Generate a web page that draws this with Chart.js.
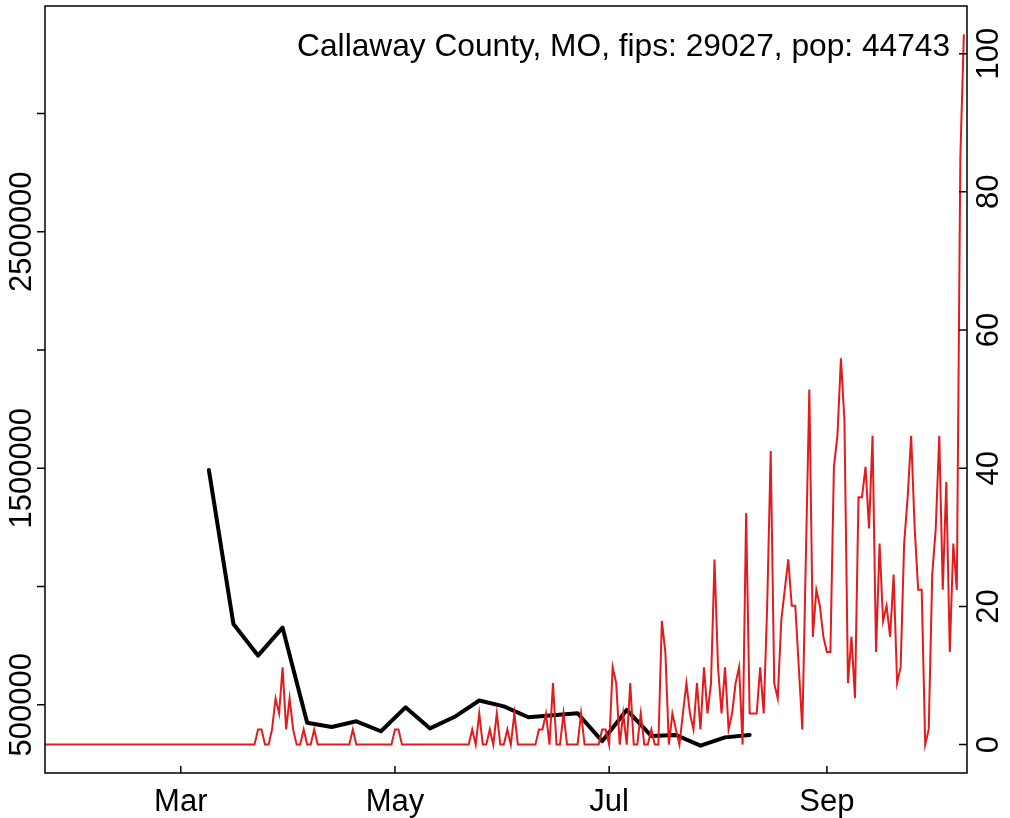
<!DOCTYPE html>
<html>
<head>
<meta charset="utf-8">
<script src="https://cdn.jsdelivr.net/npm/chart.js@4.4.1/dist/chart.umd.min.js"></script>
<style>
  html, body { margin: 0; padding: 0; background: #fff; }
  canvas { display: block; }
</style>
</head>
<body>
<canvas id="chart" width="1010" height="818"></canvas>
<script>
// day 0 = Jan 22
const dailyRate = [
    0, 0, 0, 0, 0, 0, 0, 0, 0, 0, 0, 0, 0, 0, 0, 0, 0, 0, 0, 0,
    0, 0, 0, 0, 0, 0, 0, 0, 0, 0, 0, 0, 0, 0, 0, 0, 0, 0, 0, 0,
    0, 0, 0, 0, 0, 0, 0, 0, 0, 0, 0, 0, 0, 0, 0, 0, 0, 0, 0, 0,
    0, 2.2, 2.2, 0, 0, 2.2, 6.7, 4.5, 11.2, 2.2, 6.7, 2.2, 0, 0, 2.2, 0, 0, 2.2, 0, 0,
    0, 0, 0, 0, 0, 0, 0, 0, 2.2, 0, 0, 0, 0, 0, 0, 0, 0, 0, 0, 0,
    2.2, 2.2, 0, 0, 0, 0, 0, 0, 0, 0, 0, 0, 0, 0, 0, 0, 0, 0, 0, 0,
    0, 0, 2.2, 0, 4.5, 0, 0, 2.2, 0, 4.5, 0, 0, 2.2, 0, 4.5, 0, 0, 0, 0, 0,
    0, 2.2, 2.2, 4.5, 0, 8.9, 0, 0, 4.5, 0, 0, 0, 0, 4.5, 0, 0, 0, 0, 0, 2.2,
    2.2, 0, 11.2, 8.9, 0, 4.5, 0, 8.9, 0, 0, 4.5, 0, 0, 2.2, 0, 0, 17.9, 13.4, 0, 4.5,
    2.2, 0, 4.5, 8.9, 4.5, 2.2, 8.9, 2.2, 11.2, 4.5, 8.9, 26.8, 11.2, 4.5, 11.2, 2.2, 4.5, 8.9, 11.2, 0,
    33.5, 4.5, 4.5, 4.5, 11.2, 4.5, 20.1, 42.5, 8.9, 6.7, 17.9, 22.4, 26.8, 20.1, 20.1, 11.2, 2.2, 26.8, 51.4, 15.6,
    22.4, 20.1, 15.6, 13.4, 13.4, 40.2, 44.7, 55.9, 46.9, 8.9, 15.6, 6.7, 35.8, 35.8, 40.2, 31.3, 44.7, 13.4, 29.1, 17.9,
    20.1, 15.6, 24.6, 8.9, 11.2, 29.1, 35.8, 44.7, 31.3, 22.4, 22.4, 0, 2.2, 24.6, 31.3, 44.7, 22.4, 38.0, 13.4, 29.1,
    22.4, 84.9, 102.8
];

// weekly series, Mar 9 .. Aug 10
const weekDays = [47, 54, 61, 68, 75, 82, 89, 96, 103, 110, 117, 124,
                  131, 138, 145, 152, 159, 166, 173, 180, 187, 194, 201];
const weekTotals = [1493000, 841000, 708000, 826000, 424000, 406000, 430000, 388000,
                    489000, 400000, 449000, 518000, 493000, 447000, 456000, 464000,
                    346000, 478000, 368000, 372000, 327000, 362000, 372000];

const monthTicks = [39, 100, 161, 223];
const monthLabels = ['Mar', 'May', 'Jul', 'Sep'];
const leftTicks = [500000, 1000000, 1500000, 2000000, 2500000, 3000000];
const leftLabels = ['500000', '', '1500000', '', '2500000', ''];
const rightTicks = [0, 20, 40, 60, 80, 100];
const titleText = 'Callaway County, MO, fips: 29027, pop: 44743';

const FAMILY = '"Liberation Sans", Arial, Helvetica, sans-serif';
const FONT = '31px ' + FAMILY;

const framePlugin = {
    id: 'frame',
    afterDatasetsDraw(chart) {
        const ctx = chart.ctx;
        const a = chart.chartArea;
        const sx = chart.scales.x, sl = chart.scales.y, sr = chart.scales.y2;
        ctx.save();
        ctx.strokeStyle = '#000';
        ctx.fillStyle = '#000';
        ctx.lineWidth = 1.5;
        ctx.strokeRect(a.left, a.top, a.right - a.left, a.bottom - a.top);

        ctx.font = FONT;
        ctx.beginPath();
        // x ticks point inward
        monthTicks.forEach(d => {
            const px = sx.getPixelForValue(d);
            ctx.moveTo(px, a.bottom);
            ctx.lineTo(px, a.bottom - 7);
        });
        // left ticks outward
        leftTicks.forEach(v => {
            const py = sl.getPixelForValue(v);
            ctx.moveTo(a.left, py);
            ctx.lineTo(a.left - 8, py);
        });
        // right ticks inward
        rightTicks.forEach(v => {
            const py = sr.getPixelForValue(v);
            ctx.moveTo(a.right, py);
            ctx.lineTo(a.right - 8, py);
        });
        ctx.stroke();

        ctx.textAlign = 'center';
        ctx.textBaseline = 'alphabetic';
        monthTicks.forEach((d, i) => {
            ctx.fillText(monthLabels[i], sx.getPixelForValue(d), 811);
        });

        leftTicks.forEach((v, i) => {
            if (!leftLabels[i]) return;
            ctx.save();
            ctx.translate(31, sl.getPixelForValue(v));
            ctx.rotate(-Math.PI / 2);
            ctx.fillText(leftLabels[i], 0, 0);
            ctx.restore();
        });

        rightTicks.forEach(v => {
            ctx.save();
            ctx.translate(998, sr.getPixelForValue(v));
            ctx.rotate(-Math.PI / 2);
            ctx.fillText(String(v), 0, 0);
            ctx.restore();
        });

        ctx.font = '31.7px ' + FAMILY;
        ctx.textAlign = 'right';
        ctx.fillText(titleText, 950, 56);
        ctx.restore();
    }
};

const chart = new Chart(document.getElementById('chart'), {
    type: 'line',
    data: {
        datasets: [
            {
                label: 'daily',
                data: dailyRate.map((v, i) => ({ x: i, y: v })),
                yAxisID: 'y2',
                borderColor: '#e41a1c',
                borderWidth: 2,
                pointRadius: 0,
                tension: 0,
                order: 0,
            },
            {
                label: 'weekly',
                data: weekDays.map((d, i) => ({ x: d, y: weekTotals[i] })),
                yAxisID: 'y',
                borderColor: '#000000',
                borderWidth: 4,
                pointRadius: 0,
                tension: 0,
                borderCapStyle: 'round',
                borderJoinStyle: 'round',
                order: 1,
            },
        ],
    },
    options: {
        responsive: false,
        animation: false,
        devicePixelRatio: 1,
        layout: { padding: { top: 6, left: 0, right: 0, bottom: 0 } },
        plugins: {
            legend: { display: false },
            tooltip: { enabled: false },
        },
        scales: {
            x: {
                type: 'linear',
                min: 0.34,
                max: 262.9,
                ticks: { display: false },
                grid: { display: false },
                border: { display: false },
                afterFit: s => { s.height = 45; },
            },
            y: {
                type: 'linear',
                position: 'left',
                min: 211400,
                max: 3454500,
                ticks: { display: false },
                grid: { display: false },
                border: { display: false },
                afterFit: s => { s.width = 45; },
            },
            y2: {
                type: 'linear',
                position: 'right',
                min: -4.11,
                max: 106.9,
                ticks: { display: false },
                grid: { display: false },
                border: { display: false },
                afterFit: s => { s.width = 43; },
            },
        },
    },
    plugins: [framePlugin],
});
</script>
</body>
</html>
